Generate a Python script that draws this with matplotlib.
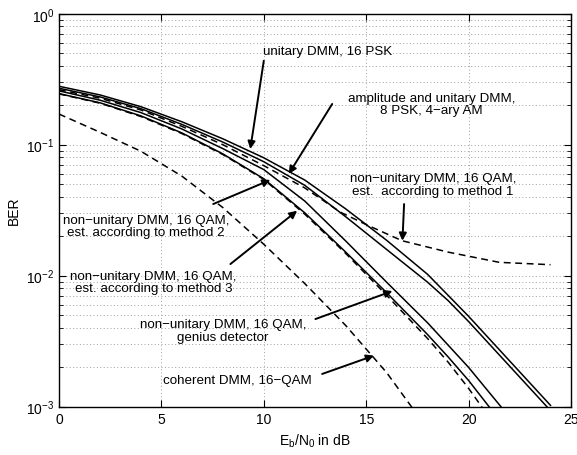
import numpy as np
import matplotlib
matplotlib.use("Agg")
import matplotlib.pyplot as plt

plt.rcParams['font.family'] = ['Liberation Sans', 'DejaVu Sans']
plt.rcParams['mathtext.fontset'] = 'custom'
plt.rcParams['mathtext.rm'] = 'Liberation Sans'
plt.rcParams['mathtext.it'] = 'Liberation Sans:italic'

# ---- data (Eb/N0 in dB, log10 BER) ----
x_main = [0, 2, 4, 6, 8, 10, 12, 14, 16, 18, 19, 20, 22, 24]
log_psk16 = [-0.554, -0.62, -0.71, -0.825, -0.955, -1.10, -1.27, -1.49, -1.73, -1.99, -2.15, -2.31, -2.65, -2.99]
log_ampl = [-0.569, -0.635, -0.725, -0.845, -0.98, -1.13, -1.31, -1.55, -1.80, -2.05, -2.19, -2.35, -2.69, -3.03]

x_m1 = [0, 2, 4, 6, 8, 10, 12, 13.75, 15, 16.75, 19, 21.5, 24]
log_m1 = [-0.58, -0.645, -0.735, -0.86, -1.00, -1.16, -1.33, -1.516, -1.61, -1.733, -1.82, -1.898, -1.916]

x_low = [0, 2, 4, 6, 8, 10, 12, 14, 16, 18, 19, 20, 22]
log_m2 = [-0.589, -0.66, -0.755, -0.88, -1.03, -1.19, -1.43, -1.735, -2.05, -2.36, -2.53, -2.70, -3.08]
log_m3 = [-0.61, -0.68, -0.78, -0.91, -1.07, -1.26, -1.52, -1.82, -2.13, -2.45, -2.62, -2.80, -3.20]
log_genius = [-0.612, -0.683, -0.785, -0.915, -1.075, -1.265, -1.53, -1.83, -2.15, -2.48, -2.66, -2.86, -3.30]

x_coh = [0, 2, 4, 6, 8, 10, 12, 14, 16, 18]
log_coh = [-0.766, -0.905, -1.05, -1.24, -1.48, -1.76, -2.06, -2.38, -2.74, -3.17]

y_ticks = [1e-3, 1e-2, 1e-1, 1e0]
x_ticks = [0, 5, 10, 15, 20, 25]

fig = plt.figure(figsize=(5.77, 4.56), dpi=100)
ax = fig.add_axes([59/577, 1-407.7/456, 512/577, 393/456])

dash = (4.5, 3.0)
lw = 1.1
ax.semilogy(x_main, 10**np.array(log_psk16), 'k-', lw=lw)
ax.semilogy(x_main, 10**np.array(log_ampl), 'k-', lw=lw)
ax.semilogy(x_m1, 10**np.array(log_m1), 'k--', lw=lw, dashes=dash)
ax.semilogy(x_low, 10**np.array(log_m2), 'k-', lw=lw)
ax.semilogy(x_low, 10**np.array(log_m3), 'k-', lw=lw)
ax.semilogy(x_low, 10**np.array(log_genius), 'k--', lw=lw, dashes=dash)
ax.semilogy(x_coh, 10**np.array(log_coh), 'k--', lw=lw, dashes=dash)

ax.set_xlim(0, 25)
ax.set_ylim(1e-3, 1)
ax.set_xticks(x_ticks)
ax.set_yticks(y_ticks)
gkw = dict(linestyle=(0, (1, 2.5)), color='#a0a0a0', lw=0.7)
ax.grid(True, which='major', **gkw)
ax.grid(True, which='minor', axis='y', **gkw)
ax.tick_params(which='both', direction='in', top=True, right=True, labelsize=10)
ax.tick_params(which='major', length=5)
ax.tick_params(which='minor', length=3)
for s in ax.spines.values():
    s.set_linewidth(1.0)

ax.set_xlabel(r'E$_{\mathrm{b}}$/N$_{\mathrm{0}}$ in dB', fontsize=10)
ax.set_ylabel('BER', fontsize=10)

fs = 9.6
ap = dict(arrowstyle='-|>', color='k', lw=1.4, mutation_scale=11, shrinkA=0, shrinkB=0)

def note(text, tx, ty, sx, sy, ex, ey):
    ax.text(tx, ty, text, ha='center', va='center', fontsize=fs, linespacing=1.05)
    ax.annotate('', xy=(ex, ey), xytext=(sx, sy), arrowprops=ap)

note('unitary DMM, 16 PSK', 13.11, 10**-0.285, 10.0, 10**-0.359, 9.34, 10**-1.033)
note('amplitude and unitary DMM,\n8 PSK, 4\u2212ary AM', 18.2, 10**-0.689, 13.34, 10**-0.689, 11.22, 10**-1.223)
note('non\u2212unitary DMM, 16 QAM,\nest.  according to method 1', 18.27, 10**-1.304, 16.85, 10**-1.453, 16.77, 10**-1.733)
note('non\u2212unitary DMM, 16 QAM,\nest. according to method 2', 4.25, 10**-1.621, 7.53, 10**-1.453, 10.32, 10**-1.269)
note('non\u2212unitary DMM, 16 QAM,\nest. according to method 3', 4.62, 10**-2.048, 8.37, 10**-1.911, 11.63, 10**-1.504)
note('non\u2212unitary DMM, 16 QAM,\ngenius detector', 8.0, 10**-2.417, 12.52, 10**-2.331, 16.28, 10**-2.117)
note('coherent DMM, 16\u2212QAM', 8.69, 10**-2.80, 12.85, 10**-2.75, 15.38, 10**-2.61)

fig.savefig('out.png', dpi=100)
